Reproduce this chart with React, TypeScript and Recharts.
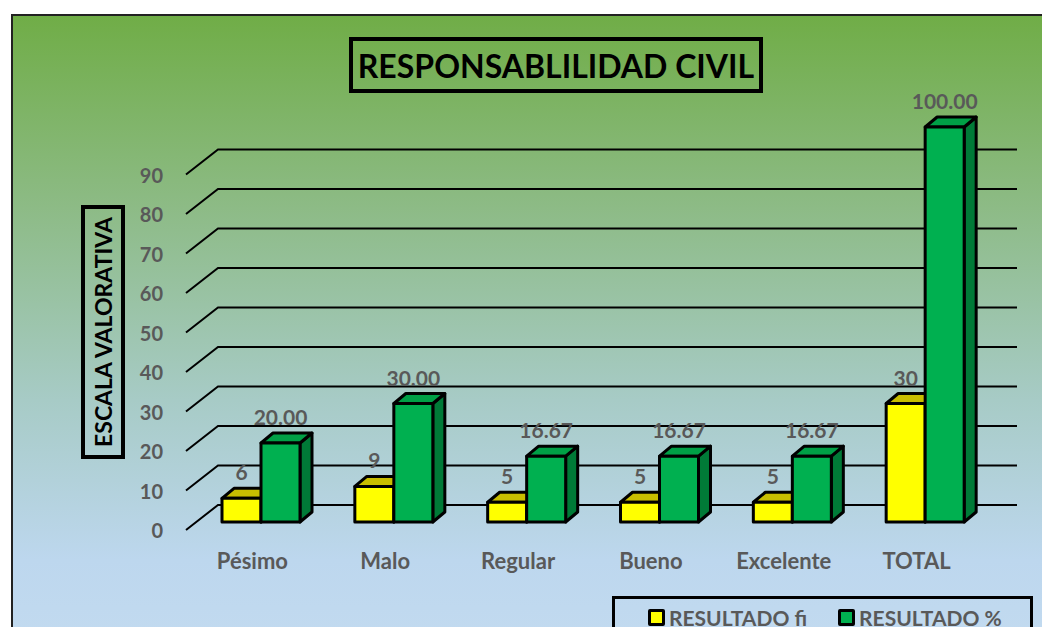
import { BarChart, Bar, XAxis, YAxis, CartesianGrid, LabelList, Legend } from 'recharts';

// datos del gráfico
const categorias = ['Pésimo', 'Malo', 'Regular', 'Bueno', 'Excelente', 'TOTAL'];
const resultadoFi = [6, 9, 5, 5, 5, 30];
const resultadoPct = [20, 30, 16.67, 16.67, 16.67, 100];
const ticksY = [0, 10, 20, 30, 40, 50, 60, 70, 80, 90];

const data = categorias.map((c, i) => ({
    categoria: c,
    fi: resultadoFi[i],
    pct: resultadoPct[i],
}));

const FONT = 'Lato, "Open Sans", sans-serif';
const GRIS = '#595959';
const DX = 12; // profundidad 3D
const DY = 10;
const TOP = 127;

// barra con efecto 3D (frente, tapa y lado)
const Bar3D = (props: any) => {
    const { x, y, width, height, fill, top, side } = props;
    if (height == null || width == null) return null;
    const b = y + height;
    return (
        <g stroke="#000" strokeWidth={3} strokeLinejoin="round">
            <polygon points={`${x + width},${y} ${x + width + DX},${y - DY} ${x + width + DX},${b - DY} ${x + width},${b}`} fill={side} />
            <polygon points={`${x},${y} ${x + DX},${y - DY} ${x + width + DX},${y - DY} ${x + width},${y}`} fill={top} />
            <rect x={x} y={y} width={width} height={height} fill={fill} />
        </g>
    );
};

// línea de la cuadrícula con la diagonal de perspectiva
const LineaGrid = (props: any) => {
    const { x1, x2, y1, index } = props;
    if (y1 <= TOP + 1) return <g key={`g-${index}`} />; // sin línea en el borde superior
    return (
        <g key={`g-${index}`} stroke="#000" strokeWidth={2} fill="none">
            <polyline points={`${x1 - 9},${y1 + 8} ${x1 + 23},${y1 - 17} ${x2 + 25},${y1 - 17}`} />
        </g>
    );
};

const TickY = (props: any) => {
    const { y, payload } = props;
    return (
        <text x={163} y={y + 8} textAnchor="end" dominantBaseline="central" fill={GRIS} fontFamily={FONT} fontWeight={700} fontSize={20}>
            {payload.value}
        </text>
    );
};

const TickX = (props: any) => {
    const { x, y, payload } = props;
    return (
        <text x={x - 9} y={y + 30} textAnchor="middle" dominantBaseline="central" fill={GRIS} fontFamily={FONT} fontWeight={700} fontSize={22}>
            {payload.value}
        </text>
    );
};

const Leyenda = () => (
    <div style={{ position: 'absolute', left: 612, top: 596, width: 421, height: 40, border: '3px solid #000', borderBottom: 'none', boxSizing: 'border-box', display: 'flex', alignItems: 'center', fontFamily: FONT, fontWeight: 700, fontSize: 21, color: GRIS }}>
        <span style={{ marginLeft: 33, width: 11, height: 11, background: '#FFFF00', border: '3px solid #000', borderRadius: 2 }} />
        <span style={{ marginLeft: 4 }}>RESULTADO fi</span>
        <span style={{ marginLeft: 31, width: 11, height: 11, background: '#00B050', border: '3px solid #000', borderRadius: 2 }} />
        <span style={{ marginLeft: 4 }}>RESULTADO %</span>
    </div>
);

export default function App() {
    return (
        <div style={{ position: 'relative', width: 1050, height: 635, overflow: 'hidden', background: '#fff', margin: -8 }}>
            {/* fondo con degradado */}
            <div style={{ position: 'absolute', left: 11, top: 14, width: 1060, height: 640, border: '2px solid #222', background: 'linear-gradient(to bottom, #70AD47 0%, #8dbb86 30%, #a7cbc6 60%, #bdd7ee 85%, #c3dbf0 100%)' }} />

            {/* título */}
            <div style={{ position: 'absolute', left: 349, top: 37, width: 414, height: 56, border: '4px solid #000', boxSizing: 'border-box', display: 'flex', alignItems: 'center', justifyContent: 'center', fontFamily: FONT, fontWeight: 700, fontSize: 32, color: '#000' }}>
                RESPONSABLILIDAD CIVIL
            </div>

            {/* título del eje Y */}
            <div style={{ position: 'absolute', left: 81, top: 205, width: 44, height: 254, border: '4px solid #000', boxSizing: 'border-box', display: 'flex', alignItems: 'center', justifyContent: 'center' }}>
                <span style={{ transform: 'rotate(-90deg)', whiteSpace: 'nowrap', fontFamily: FONT, fontWeight: 700, fontSize: 23, color: '#000' }}>ESCALA VALORATIVA</span>
            </div>

            <div style={{ position: 'absolute', left: 0, top: 0 }}>
                <BarChart width={1050} height={635} data={data} margin={{ top: TOP, right: 58, bottom: 73, left: 0 }} barGap={0} barSize={39}>
                    <CartesianGrid vertical={false} horizontal={(p: any) => <LineaGrid {...p} />} />
                    <YAxis width={195} domain={[0, 100]} ticks={ticksY} axisLine={false} tickLine={false} tick={(p: any) => <TickY {...p} />} />
                    <XAxis dataKey="categoria" height={40} axisLine={false} tickLine={false} tick={(p: any) => <TickX {...p} />} />
                    <Bar dataKey="fi" fill="#FFFF00" isAnimationActive={false} shape={(p: any) => <Bar3D {...p} top="#C8BE00" side="#B5AD00" />}>
                        <LabelList dataKey="fi" position="top" offset={18} fill={GRIS} fontFamily={FONT} fontWeight={700} fontSize={21} />
                    </Bar>
                    <Bar dataKey="pct" fill="#00B050" isAnimationActive={false} shape={(p: any) => <Bar3D {...p} top="#00A046" side="#007A37" />}>
                        <LabelList dataKey="pct" position="top" offset={18} fill={GRIS} fontFamily={FONT} fontWeight={700} fontSize={21} formatter={(v: any) => Number(v).toFixed(2)} />
                    </Bar>
                    <Legend content={() => null} />
                </BarChart>
            </div>
            <Leyenda />
        </div>
    );
}
